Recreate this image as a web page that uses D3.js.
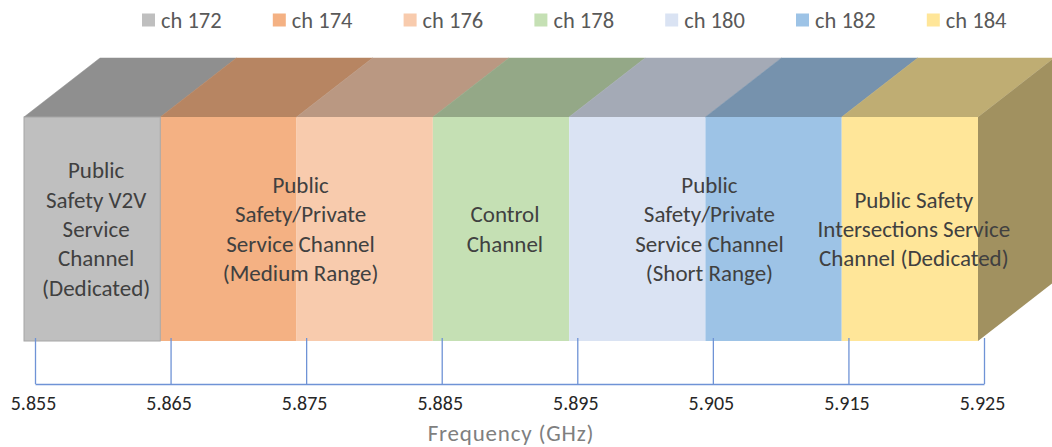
<!DOCTYPE html>
<html>
<head>
<meta charset="utf-8">
<script src="https://cdn.jsdelivr.net/npm/d3@7"></script>
<style>
  body { margin: 0; background: #fff; }
  svg { display: block; font-family: Carlito, Lato, "Open Sans", sans-serif; }
</style>
</head>
<body>
<svg id="chart"></svg>
<script>
// channel data
var channels = ['ch 172', 'ch 174', 'ch 176', 'ch 178', 'ch 180', 'ch 182', 'ch 184'];
var startFreq = [5.855, 5.865, 5.875, 5.885, 5.895, 5.905, 5.915];
var endFreq = [5.865, 5.875, 5.885, 5.895, 5.905, 5.915, 5.925];
var values = [1, 1, 1, 1, 1, 1, 1];
var colors = ['#BFBFBF', '#F4B183', '#F8CBAD', '#C5E0B4', '#DAE3F3', '#9DC3E6', '#FFE699'];
var tickValues = [5.855, 5.865, 5.875, 5.885, 5.895, 5.905, 5.915, 5.925];

// text blocks: first channel, last channel, lines
var labelFrom = ['ch 172', 'ch 174', 'ch 178', 'ch 180', 'ch 184'];
var labelTo = ['ch 172', 'ch 176', 'ch 178', 'ch 182', 'ch 184'];
var labelLines = [
    ['Public', 'Safety V2V', 'Service', 'Channel', '(Dedicated)'],
    ['Public', 'Safety/Private', 'Service Channel', '(Medium Range)'],
    ['Control', 'Channel'],
    ['Public', 'Safety/Private', 'Service Channel', '(Short Range)'],
    ['Public Safety', 'Intersections Service', 'Channel (Dedicated)']
];

/**************************************************************************************/

var W = 1052, H = 447;
var svg = d3.select('#chart').attr('width', W).attr('height', H);

var depthX = 76, depthY = -59;

var xAxisScale = d3.scaleLinear().domain([5.855, 5.925]).range([35, 984]);
var xBar = d3.scaleLinear().domain([5.855, 5.925]).range([24, 978]);
var y = d3.scaleLinear().domain([0, 1]).range([341, 117]);

function shade(c, k){
    var r = d3.rgb(c);
    return d3.rgb(r.r*k, r.g*k, r.b*k).formatHex();
}

var data = channels.map(function(name, i){
    return { name: name, x0: startFreq[i], x1: endFreq[i], v: values[i], color: colors[i] };
});

/**************************************************************************************/
// top faces
svg.append('g').selectAll('path').data(data).enter().append('path')
    .attr('d', function(d){
        var a = xBar(d.x0), b = xBar(d.x1), t = y(d.v);
        return 'M' +a+ ',' +t+ ' L' +b+ ',' +t+ ' L' +(b+depthX)+ ',' +(t+depthY)+ ' L' +(a+depthX)+ ',' +(t+depthY)+ ' Z';
    })
    .attr('fill', function(d){ return shade(d.color, 0.75); })
    .attr('stroke', function(d){ return shade(d.color, 0.75); })
    .attr('stroke-width', 0.5);

// right side face of last bar
var last = data[data.length-1];
var sx = xBar(last.x1);
svg.append('path')
    .attr('d', 'M' +sx+ ',' +y(last.v)+ ' L' +(sx+depthX)+ ',' +(y(last.v)+depthY)+ ' L' +(sx+depthX)+ ',' +(y(0)+depthY)+ ' L' +sx+ ',' +y(0)+ ' Z')
    .attr('fill', shade(last.color, 0.63));

// front faces
svg.append('g').selectAll('rect').data(data).enter().append('rect')
    .attr('x', function(d){ return xBar(d.x0); })
    .attr('y', function(d){ return y(d.v); })
    .attr('width', function(d){ return xBar(d.x1) - xBar(d.x0); })
    .attr('height', function(d){ return y(0) - y(d.v); })
    .attr('fill', function(d){ return d.color; });

svg.append('rect')
    .attr('x', xBar(startFreq[0])).attr('y', y(1))
    .attr('width', xBar(endFreq[0]) - xBar(startFreq[0])).attr('height', y(0) - y(1))
    .attr('fill', 'none').attr('stroke', '#a6a6a6').attr('stroke-width', 1);

/**************************************************************************************/
// channel text blocks
var lineH = 29.3;
labelLines.forEach(function(lines, k){
    var i0 = channels.indexOf(labelFrom[k]), i1 = channels.indexOf(labelTo[k]);
    var cx = (xBar(startFreq[i0]) + xBar(endFreq[i1]))/2 + 4;
    var cy = (y(0) + y(1))/2;
    var t = svg.append('text')
        .attr('text-anchor', 'middle')
        .attr('font-size', 23)
        .attr('fill', '#404040');
    lines.forEach(function(s, j){
        t.append('tspan')
            .attr('x', cx)
            .attr('y', cy + (j - (lines.length-1)/2)*lineH)
            .attr('dy', '0.35em')
            .text(s);
    });
});

/**************************************************************************************/
// axis
var axis = d3.axisBottom(xAxisScale)
    .tickValues(tickValues)
    .tickFormat(d3.format('.3f'))
    .tickSize(-46)
    .tickSizeOuter(0)
    .tickPadding(12);

var gAxis = svg.append('g').attr('transform', 'translate(0,384)').call(axis);
gAxis.select('.domain').attr('stroke', '#6f93d6').attr('stroke-width', 1.3);
gAxis.selectAll('.tick line').attr('stroke', '#6f93d6').attr('stroke-width', 1.3);
gAxis.selectAll('.tick text').attr('font-size', 20).attr('fill', '#262626')
    .attr('dx', -2)
    .style('font-family', 'Carlito, Lato, "Open Sans", sans-serif');

svg.append('text')
    .attr('x', 511).attr('y', 441)
    .attr('text-anchor', 'middle')
    .attr('font-size', 23)
    .attr('letter-spacing', 0.8)
    .attr('fill', '#7f7f7f')
    .text('Frequency (GHz)');

/**************************************************************************************/
// legend
var legend = svg.append('g').selectAll('g').data(data).enter().append('g')
    .attr('transform', function(d, i){ return 'translate(' +(142 + i*130.8)+ ',20)'; });
legend.append('rect')
    .attr('x', 0).attr('y', -6.5).attr('width', 13).attr('height', 13)
    .attr('fill', function(d){ return d.color; });
legend.append('text')
    .attr('x', 19).attr('dy', '0.35em')
    .attr('font-size', 22.5)
    .attr('fill', '#595959')
    .text(function(d){ return d.name; });
</script>
</body>
</html>
